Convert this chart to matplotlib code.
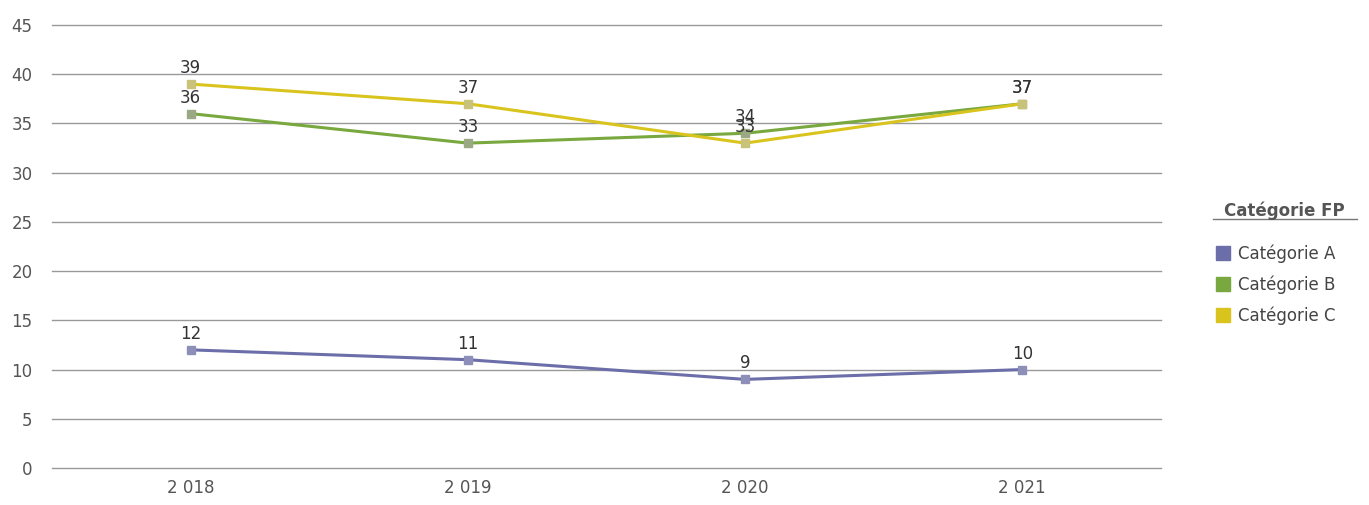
import matplotlib.pyplot as plt
from matplotlib.lines import Line2D

years = ['2 018', '2 019', '2 020', '2 021']
cat_a = [12, 11, 9, 10]
cat_b = [36, 33, 34, 37]
cat_c = [39, 37, 33, 37]
series_names = ['Catégorie A', 'Catégorie B', 'Catégorie C']
colors = ['#6b6ea8', '#78a83e', '#d9c41e']
marker_colors = ['#8d8fb8', '#9aa883', '#c8c27a']

fig = plt.figure(figsize=(13.69, 5.05), dpi=100)
ax = fig.add_axes([0.038, 0.0733, 0.81, 0.8772])

x = list(range(len(years)))
for vals, c, mc, name in zip([cat_a, cat_b, cat_c], colors, marker_colors, series_names):
    ax.plot(x, vals, color=c, lw=2.2, marker='s', markersize=6,
            markerfacecolor=mc, markeredgecolor=mc, label=name, zorder=3)
    for xi, v in zip(x, vals):
        ax.annotate(str(v), (xi, v), xytext=(0, 5), textcoords='offset points',
                    ha='center', va='bottom', fontsize=12, color='#333333', zorder=4)

ax.set_xlim(-0.5, 3.5)
ax.set_ylim(0, 45)
ax.set_yticks(range(0, 46, 5))
ax.set_xticks(x)
ax.set_xticklabels(years)
ax.grid(axis='y', color='#999999', lw=1)
for gl in ax.get_ygridlines():
    gl.set_clip_on(False)
ax.set_axisbelow(True)
for s in ax.spines.values():
    s.set_visible(False)
ax.tick_params(axis='both', length=0, labelsize=12, labelcolor='#555555')
ax.tick_params(axis='y', pad=14)
ax.tick_params(axis='x', pad=8)

# legend
fig.text(0.938, 0.583, 'Catégorie FP', ha='center', va='center', fontsize=12,
         color='#555555', fontweight='semibold')
fig.add_artist(Line2D([0.886, 0.991], [0.567, 0.567], color='#777777', lw=1))
handles = [Line2D([], [], ls='', marker='s', markersize=10, color=c) for c in colors]
fig.legend(handles, series_names, loc='upper left', bbox_to_anchor=(0.875, 0.545),
           frameon=False, fontsize=12, handletextpad=0.3, labelspacing=0.75,
           labelcolor='#444444', handlelength=1.2)

fig.savefig('out.png', dpi=100)
